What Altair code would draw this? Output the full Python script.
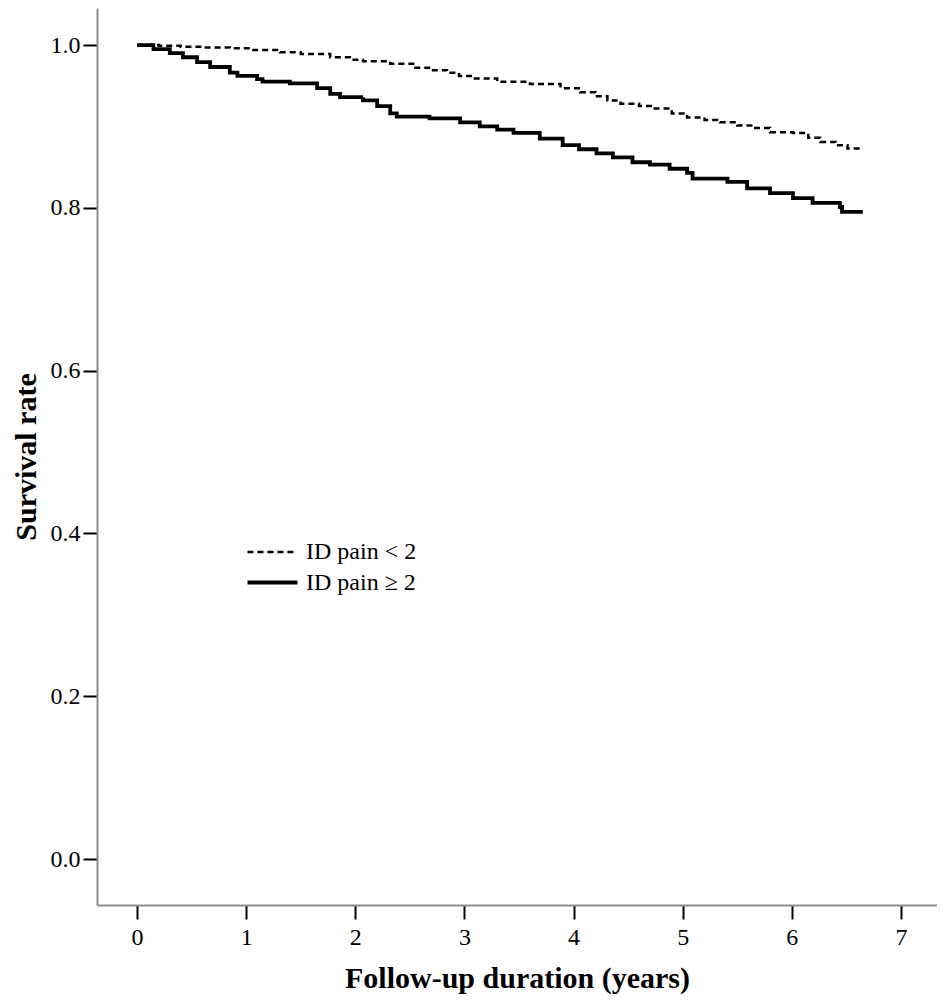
import altair as alt
import pandas as pd

# Kaplan-Meier style step curves
solid_t = [0.00, 0.15, 0.30, 0.42, 0.55, 0.67, 0.85, 0.92, 1.10, 1.15, 1.40, 1.65, 1.77, 1.86,
           2.07, 2.20, 2.32, 2.38, 2.68, 2.96, 3.14, 3.30, 3.45, 3.69, 3.90, 4.05, 4.21, 4.36,
           4.54, 4.70, 4.88, 5.04, 5.09, 5.41, 5.59, 5.80, 6.01, 6.19, 6.44, 6.46, 6.65]
solid_s = [1.000, 0.995, 0.990, 0.985, 0.979, 0.973, 0.966, 0.962, 0.958, 0.955, 0.953, 0.947,
           0.940, 0.936, 0.932, 0.925, 0.916, 0.912, 0.910, 0.905, 0.900, 0.896, 0.892, 0.885,
           0.877, 0.872, 0.867, 0.862, 0.856, 0.853, 0.848, 0.843, 0.836, 0.832, 0.824, 0.818,
           0.812, 0.806, 0.801, 0.795, 0.795]

dash_t = [0.00, 0.20, 0.40, 0.60, 0.85, 1.05, 1.31, 1.50, 1.77, 1.95, 2.07, 2.32, 2.53, 2.70,
          2.84, 2.95, 3.08, 3.30, 3.60, 3.88, 4.06, 4.20, 4.31, 4.43, 4.60, 4.73, 4.90, 5.04,
          5.20, 5.34, 5.50, 5.64, 5.80, 6.01, 6.15, 6.26, 6.40, 6.51, 6.65]
dash_s = [1.000, 0.999, 0.998, 0.997, 0.996, 0.994, 0.991, 0.989, 0.985, 0.982, 0.980, 0.977,
          0.972, 0.969, 0.966, 0.962, 0.959, 0.955, 0.952, 0.947, 0.942, 0.937, 0.932, 0.928,
          0.925, 0.922, 0.916, 0.911, 0.908, 0.905, 0.901, 0.898, 0.893, 0.892, 0.886, 0.881,
          0.877, 0.873, 0.873]

groups = ["ID pain < 2", "ID pain \u2265 2"]
x_ticks = [0, 1, 2, 3, 4, 5, 6, 7]
y_ticks = [0.0, 0.2, 0.4, 0.6, 0.8, 1.0]

df = pd.concat([
    pd.DataFrame({"t": dash_t, "s": dash_s, "g": groups[0]}),
    pd.DataFrame({"t": solid_t, "s": solid_s, "g": groups[1]}),
])

FONT = "Liberation Serif"

chart = alt.Chart(df).mark_line(interpolate="step-after", color="black").encode(
    x=alt.X("t:Q", scale=alt.Scale(domain=[-0.367, 7.33], nice=False, zero=False),
            axis=alt.Axis(title="Follow-up duration (years)", values=x_ticks, format="d",
                          grid=False, tickSize=14, tickColor="black", tickWidth=2,
                          domainColor="#8c8c8c", domainWidth=2, labelPadding=6,
                          labelFontSize=24, labelFont=FONT, labelColor="black",
                          titleFont=FONT, titleFontSize=30, titleFontWeight="bold",
                          titleColor="black", titlePadding=14)),
    y=alt.Y("s:Q", scale=alt.Scale(domain=[-0.0565, 1.0455], nice=False, zero=False),
            axis=alt.Axis(title="Survival rate", values=y_ticks, format=".1f",
                          grid=False, tickSize=14, tickColor="black", tickWidth=2,
                          domainColor="#8c8c8c", domainWidth=2, labelPadding=3,
                          labelFontSize=24, labelFont=FONT, labelColor="black",
                          titleFont=FONT, titleFontSize=30, titleFontWeight="bold",
                          titleColor="black", titlePadding=9)),
    strokeDash=alt.StrokeDash("g:N", scale=alt.Scale(domain=groups, range=[[6, 4], [1, 0]]),
                              legend=alt.Legend(title=None, orient="none", legendX=161,
                                                legendY=530, labelFont=FONT, labelFontSize=24,
                                                labelColor="black", symbolType="M-2,0L2,0",
                                                symbolStrokeColor="black", symbolSize=625,
                                                symbolStrokeWidth=3, labelOffset=19,
                                                rowPadding=4)),
    strokeWidth=alt.StrokeWidth("g:N", scale=alt.Scale(domain=groups, range=[2.5, 3.8]),
                                legend=None),
).properties(
    width=840, height=897,
    autosize=alt.AutoSizeParams(type="none"),
    padding={"left": 89, "top": 0, "right": 0, "bottom": 92},
).configure_view(stroke=None)

chart.save("out.html", embed_options={"renderer": "svg", "actions": False})
